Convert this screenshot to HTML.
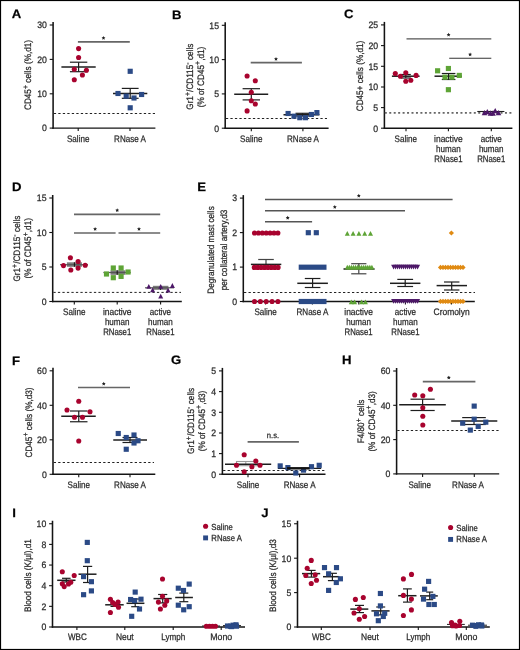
<!DOCTYPE html>
<html><head><meta charset="utf-8"><style>
html,body{margin:0;padding:0;background:#fff;}
body{width:520px;height:650px;overflow:hidden;}
text{stroke:#2a2a2a;stroke-width:0.25px;text-rendering:geometricPrecision;}
svg{display:block;will-change:transform;font-family:"Liberation Sans", sans-serif;}
</style></head><body>
<svg width="520" height="650" viewBox="0 0 520 650">
<rect x="0" y="0" width="520" height="650" fill="#fff"/>
<text transform="translate(11.8,18.1) scale(1.08,1)" font-size="12.2" text-anchor="start" fill="#000" font-weight="bold">A</text>
<line x1="53.1" y1="22" x2="53.1" y2="128.8" stroke="#141414" stroke-width="1.55" stroke-linecap="butt"/>
<line x1="49.7" y1="25" x2="53.1" y2="25" stroke="#141414" stroke-width="1.1" stroke-linecap="butt"/>
<text transform="translate(46.9,28.35) scale(0.93,1)" font-size="9.4" text-anchor="end" fill="#2a2a2a">30</text>
<line x1="49.7" y1="59.4" x2="53.1" y2="59.4" stroke="#141414" stroke-width="1.1" stroke-linecap="butt"/>
<text transform="translate(46.9,62.75) scale(0.93,1)" font-size="9.4" text-anchor="end" fill="#2a2a2a">20</text>
<line x1="49.7" y1="93.8" x2="53.1" y2="93.8" stroke="#141414" stroke-width="1.1" stroke-linecap="butt"/>
<text transform="translate(46.9,97.15) scale(0.93,1)" font-size="9.4" text-anchor="end" fill="#2a2a2a">10</text>
<line x1="49.7" y1="128.1" x2="53.1" y2="128.1" stroke="#141414" stroke-width="1.1" stroke-linecap="butt"/>
<text transform="translate(46.9,131.45) scale(0.93,1)" font-size="9.4" text-anchor="end" fill="#2a2a2a">0</text>
<line x1="52.4" y1="128.1" x2="155.4" y2="128.1" stroke="#141414" stroke-width="1.4" stroke-linecap="butt"/>
<line x1="78.2" y1="128.1" x2="78.2" y2="131.1" stroke="#141414" stroke-width="1.1" stroke-linecap="butt"/>
<line x1="130" y1="128.1" x2="130" y2="131.1" stroke="#141414" stroke-width="1.1" stroke-linecap="butt"/>
<line x1="53.8" y1="113.5" x2="155" y2="113.5" stroke="#222" stroke-width="1" stroke-linecap="butt" stroke-dasharray="2.3,2.2"/>
<text transform="translate(31,75) rotate(-90) scale(0.87,1)" font-size="9.4" text-anchor="middle" fill="#2a2a2a">CD45<tspan font-size="7.6" dy="-3.2">+</tspan><tspan dy="3.2" dx="0.4"> cells (%,d1)</tspan></text>
<line x1="77.9" y1="41.8" x2="129.8" y2="41.8" stroke="#666666" stroke-width="1.7" stroke-linecap="butt"/>
<polygon points="103.5,35.95 104.1,37.17 105.45,37.37 104.47,38.32 104.7,39.66 103.5,39.02 102.3,39.66 102.53,38.32 101.55,37.37 102.9,37.17" fill="#222"/>
<line x1="69.9" y1="62.2" x2="87.3" y2="62.2" stroke="#1e1e1e" stroke-width="1.2" stroke-linecap="butt"/>
<line x1="69.9" y1="71.7" x2="87.3" y2="71.7" stroke="#1e1e1e" stroke-width="1.2" stroke-linecap="butt"/>
<line x1="78.6" y1="62.2" x2="78.6" y2="71.7" stroke="#1e1e1e" stroke-width="1.2" stroke-linecap="butt"/>
<line x1="61.4" y1="66.9" x2="95.7" y2="66.9" stroke="#1e1e1e" stroke-width="1.5" stroke-linecap="butt"/>
<line x1="121.8" y1="88.4" x2="138.6" y2="88.4" stroke="#1e1e1e" stroke-width="1.2" stroke-linecap="butt"/>
<line x1="121.8" y1="98.3" x2="138.6" y2="98.3" stroke="#1e1e1e" stroke-width="1.2" stroke-linecap="butt"/>
<line x1="130.2" y1="88.4" x2="130.2" y2="98.3" stroke="#1e1e1e" stroke-width="1.2" stroke-linecap="butt"/>
<line x1="113" y1="93.5" x2="147.3" y2="93.5" stroke="#1e1e1e" stroke-width="1.5" stroke-linecap="butt"/>
<text transform="translate(78.2,141.6) scale(0.86,1)" font-size="9.4" text-anchor="middle" fill="#2a2a2a">Saline</text>
<text transform="translate(130,141.6) scale(0.86,1)" font-size="9.4" text-anchor="middle" fill="#2a2a2a">RNase A</text>
<text transform="translate(172,18.6) scale(1.08,1)" font-size="12.2" text-anchor="start" fill="#000" font-weight="bold">B</text>
<line x1="225.2" y1="22.3" x2="225.2" y2="128.9" stroke="#141414" stroke-width="1.55" stroke-linecap="butt"/>
<line x1="221.8" y1="25.3" x2="225.2" y2="25.3" stroke="#141414" stroke-width="1.1" stroke-linecap="butt"/>
<text transform="translate(219,28.65) scale(0.93,1)" font-size="9.4" text-anchor="end" fill="#2a2a2a">15</text>
<line x1="221.8" y1="59.6" x2="225.2" y2="59.6" stroke="#141414" stroke-width="1.1" stroke-linecap="butt"/>
<text transform="translate(219,62.95) scale(0.93,1)" font-size="9.4" text-anchor="end" fill="#2a2a2a">10</text>
<line x1="221.8" y1="93.9" x2="225.2" y2="93.9" stroke="#141414" stroke-width="1.1" stroke-linecap="butt"/>
<text transform="translate(219,97.25) scale(0.93,1)" font-size="9.4" text-anchor="end" fill="#2a2a2a">5</text>
<line x1="221.8" y1="128.2" x2="225.2" y2="128.2" stroke="#141414" stroke-width="1.1" stroke-linecap="butt"/>
<text transform="translate(219,131.55) scale(0.93,1)" font-size="9.4" text-anchor="end" fill="#2a2a2a">0</text>
<line x1="224.5" y1="128.2" x2="328.6" y2="128.2" stroke="#141414" stroke-width="1.4" stroke-linecap="butt"/>
<line x1="251.3" y1="128.2" x2="251.3" y2="131.2" stroke="#141414" stroke-width="1.1" stroke-linecap="butt"/>
<line x1="302.9" y1="128.2" x2="302.9" y2="131.2" stroke="#141414" stroke-width="1.1" stroke-linecap="butt"/>
<line x1="225.9" y1="118.5" x2="327" y2="118.5" stroke="#222" stroke-width="1" stroke-linecap="butt" stroke-dasharray="2.3,2.2"/>
<text transform="translate(193,76.7) rotate(-90) scale(0.87,1)" font-size="9.4" text-anchor="middle" fill="#2a2a2a">Gr1<tspan font-size="7.6" dy="-3.2">+</tspan><tspan dy="3.2" dx="0.4">/CD115<tspan font-size="7.6" dy="-3.2">-</tspan><tspan dy="3.2" dx="0.4"> cells</tspan></tspan></text>
<text transform="translate(203.5,77) rotate(-90) scale(0.87,1)" font-size="9.4" text-anchor="middle" fill="#2a2a2a">(% of CD45<tspan font-size="7.6" dy="-3.2">+</tspan><tspan dy="3.2" dx="0.4">,d1)</tspan></text>
<line x1="250.7" y1="62.7" x2="301.9" y2="62.7" stroke="#666666" stroke-width="1.7" stroke-linecap="butt"/>
<polygon points="276,56.95 276.6,58.17 277.95,58.37 276.97,59.32 277.2,60.66 276,60.02 274.8,60.66 275.03,59.32 274.05,58.37 275.4,58.17" fill="#222"/>
<line x1="242.6" y1="88.7" x2="260" y2="88.7" stroke="#1e1e1e" stroke-width="1.2" stroke-linecap="butt"/>
<line x1="242.6" y1="99.9" x2="260" y2="99.9" stroke="#1e1e1e" stroke-width="1.2" stroke-linecap="butt"/>
<line x1="251.3" y1="88.7" x2="251.3" y2="99.9" stroke="#1e1e1e" stroke-width="1.2" stroke-linecap="butt"/>
<line x1="234.2" y1="94.2" x2="268.2" y2="94.2" stroke="#1e1e1e" stroke-width="1.5" stroke-linecap="butt"/>
<line x1="295.5" y1="113.3" x2="309.5" y2="113.3" stroke="#1e1e1e" stroke-width="1.2" stroke-linecap="butt"/>
<line x1="295.5" y1="116" x2="309.5" y2="116" stroke="#1e1e1e" stroke-width="1.2" stroke-linecap="butt"/>
<line x1="302.5" y1="113.3" x2="302.5" y2="116" stroke="#1e1e1e" stroke-width="1.2" stroke-linecap="butt"/>
<line x1="283.5" y1="114.7" x2="319.4" y2="114.7" stroke="#1e1e1e" stroke-width="1.5" stroke-linecap="butt"/>
<text transform="translate(251.3,141.6) scale(0.86,1)" font-size="9.4" text-anchor="middle" fill="#2a2a2a">Saline</text>
<text transform="translate(302.9,141.6) scale(0.86,1)" font-size="9.4" text-anchor="middle" fill="#2a2a2a">RNase A</text>
<text transform="translate(343.9,17.9) scale(1.08,1)" font-size="12.2" text-anchor="start" fill="#000" font-weight="bold">C</text>
<line x1="384.4" y1="21.9" x2="384.4" y2="128.9" stroke="#141414" stroke-width="1.55" stroke-linecap="butt"/>
<line x1="381" y1="24.9" x2="384.4" y2="24.9" stroke="#141414" stroke-width="1.1" stroke-linecap="butt"/>
<text transform="translate(378.2,28.25) scale(0.93,1)" font-size="9.4" text-anchor="end" fill="#2a2a2a">25</text>
<line x1="381" y1="45.6" x2="384.4" y2="45.6" stroke="#141414" stroke-width="1.1" stroke-linecap="butt"/>
<text transform="translate(378.2,48.95) scale(0.93,1)" font-size="9.4" text-anchor="end" fill="#2a2a2a">20</text>
<line x1="381" y1="66.3" x2="384.4" y2="66.3" stroke="#141414" stroke-width="1.1" stroke-linecap="butt"/>
<text transform="translate(378.2,69.65) scale(0.93,1)" font-size="9.4" text-anchor="end" fill="#2a2a2a">15</text>
<line x1="381" y1="87" x2="384.4" y2="87" stroke="#141414" stroke-width="1.1" stroke-linecap="butt"/>
<text transform="translate(378.2,90.35) scale(0.93,1)" font-size="9.4" text-anchor="end" fill="#2a2a2a">10</text>
<line x1="381" y1="107.6" x2="384.4" y2="107.6" stroke="#141414" stroke-width="1.1" stroke-linecap="butt"/>
<text transform="translate(378.2,110.95) scale(0.93,1)" font-size="9.4" text-anchor="end" fill="#2a2a2a">5</text>
<line x1="381" y1="128.2" x2="384.4" y2="128.2" stroke="#141414" stroke-width="1.1" stroke-linecap="butt"/>
<text transform="translate(378.2,131.55) scale(0.93,1)" font-size="9.4" text-anchor="end" fill="#2a2a2a">0</text>
<line x1="383.7" y1="128.2" x2="512.4" y2="128.2" stroke="#141414" stroke-width="1.4" stroke-linecap="butt"/>
<line x1="406" y1="128.2" x2="406" y2="131.2" stroke="#141414" stroke-width="1.1" stroke-linecap="butt"/>
<line x1="448.4" y1="128.2" x2="448.4" y2="131.2" stroke="#141414" stroke-width="1.1" stroke-linecap="butt"/>
<line x1="491.3" y1="128.2" x2="491.3" y2="131.2" stroke="#141414" stroke-width="1.1" stroke-linecap="butt"/>
<line x1="384.8" y1="112.9" x2="512" y2="112.9" stroke="#666" stroke-width="1.7" stroke-linecap="butt" stroke-dasharray="2,2.45"/>
<text transform="translate(362.8,76) rotate(-90) scale(0.87,1)" font-size="9.4" text-anchor="middle" fill="#2a2a2a">CD45+ cells (%,d1)</text>
<line x1="406.5" y1="38.9" x2="491.3" y2="38.9" stroke="#555" stroke-width="1.4" stroke-linecap="butt"/>
<polygon points="448.6,32.75 449.2,33.97 450.55,34.17 449.57,35.12 449.8,36.46 448.6,35.82 447.4,36.46 447.63,35.12 446.65,34.17 448,33.97" fill="#222"/>
<line x1="449.2" y1="58.3" x2="491.3" y2="58.3" stroke="#333" stroke-width="1.1" stroke-linecap="butt"/>
<polygon points="470.1,52.45 470.7,53.67 472.05,53.87 471.07,54.82 471.3,56.16 470.1,55.52 468.9,56.16 469.13,54.82 468.15,53.87 469.5,53.67" fill="#222"/>
<line x1="400.8" y1="74.5" x2="410.8" y2="74.5" stroke="#1e1e1e" stroke-width="1.2" stroke-linecap="butt"/>
<line x1="400.8" y1="78" x2="410.8" y2="78" stroke="#1e1e1e" stroke-width="1.2" stroke-linecap="butt"/>
<line x1="405.8" y1="74.5" x2="405.8" y2="78" stroke="#1e1e1e" stroke-width="1.2" stroke-linecap="butt"/>
<line x1="391.9" y1="76.2" x2="419.6" y2="76.2" stroke="#1e1e1e" stroke-width="1.5" stroke-linecap="butt"/>
<line x1="441.8" y1="73.5" x2="455.4" y2="73.5" stroke="#1e1e1e" stroke-width="1.2" stroke-linecap="butt"/>
<line x1="441.8" y1="79.5" x2="455.4" y2="79.5" stroke="#1e1e1e" stroke-width="1.2" stroke-linecap="butt"/>
<line x1="448.6" y1="73.5" x2="448.6" y2="79.5" stroke="#1e1e1e" stroke-width="1.2" stroke-linecap="butt"/>
<line x1="434.5" y1="76.2" x2="461.9" y2="76.2" stroke="#1e1e1e" stroke-width="1.5" stroke-linecap="butt"/>
<line x1="477.3" y1="111.5" x2="504.4" y2="111.5" stroke="#1e1e1e" stroke-width="1.1" stroke-linecap="butt"/>
<text transform="translate(405.8,141.8) scale(0.86,1)" font-size="9.4" text-anchor="middle" fill="#2a2a2a">Saline</text>
<text transform="translate(448.4,141.8) scale(0.9,1)" font-size="9.4" text-anchor="middle" fill="#2a2a2a">inactive</text>
<text transform="translate(448.4,151.8) scale(0.86,1)" font-size="9.4" text-anchor="middle" fill="#2a2a2a">human</text>
<text transform="translate(448.4,161.8) scale(0.83,1)" font-size="9.4" text-anchor="middle" fill="#2a2a2a">RNase1</text>
<text transform="translate(491.2,141.8) scale(0.86,1)" font-size="9.4" text-anchor="middle" fill="#2a2a2a">active</text>
<text transform="translate(491.2,151.8) scale(0.86,1)" font-size="9.4" text-anchor="middle" fill="#2a2a2a">human</text>
<text transform="translate(491.2,161.8) scale(0.83,1)" font-size="9.4" text-anchor="middle" fill="#2a2a2a">RNase1</text>
<text transform="translate(12.1,191.2) scale(1.08,1)" font-size="12.2" text-anchor="start" fill="#000" font-weight="bold">D</text>
<line x1="52.7" y1="195" x2="52.7" y2="302.2" stroke="#141414" stroke-width="1.55" stroke-linecap="butt"/>
<line x1="49.3" y1="198" x2="52.7" y2="198" stroke="#141414" stroke-width="1.1" stroke-linecap="butt"/>
<text transform="translate(46.5,201.35) scale(0.93,1)" font-size="9.4" text-anchor="end" fill="#2a2a2a">15</text>
<line x1="49.3" y1="232.5" x2="52.7" y2="232.5" stroke="#141414" stroke-width="1.1" stroke-linecap="butt"/>
<text transform="translate(46.5,235.85) scale(0.93,1)" font-size="9.4" text-anchor="end" fill="#2a2a2a">10</text>
<line x1="49.3" y1="267" x2="52.7" y2="267" stroke="#141414" stroke-width="1.1" stroke-linecap="butt"/>
<text transform="translate(46.5,270.35) scale(0.93,1)" font-size="9.4" text-anchor="end" fill="#2a2a2a">5</text>
<line x1="49.3" y1="301.5" x2="52.7" y2="301.5" stroke="#141414" stroke-width="1.1" stroke-linecap="butt"/>
<text transform="translate(46.5,304.85) scale(0.93,1)" font-size="9.4" text-anchor="end" fill="#2a2a2a">0</text>
<line x1="52" y1="301.5" x2="181.8" y2="301.5" stroke="#141414" stroke-width="1.4" stroke-linecap="butt"/>
<line x1="74.3" y1="301.5" x2="74.3" y2="304.5" stroke="#141414" stroke-width="1.1" stroke-linecap="butt"/>
<line x1="117.2" y1="301.5" x2="117.2" y2="304.5" stroke="#141414" stroke-width="1.1" stroke-linecap="butt"/>
<line x1="160.6" y1="301.5" x2="160.6" y2="304.5" stroke="#141414" stroke-width="1.1" stroke-linecap="butt"/>
<line x1="53.4" y1="292.4" x2="181" y2="292.4" stroke="#222" stroke-width="1" stroke-linecap="butt" stroke-dasharray="2.3,2.2"/>
<text transform="translate(20.4,248.6) rotate(-90) scale(0.87,1)" font-size="9.4" text-anchor="middle" fill="#2a2a2a">Gr1<tspan font-size="7.6" dy="-3.2">+</tspan><tspan dy="3.2" dx="0.4">/CD115<tspan font-size="7.6" dy="-3.2">-</tspan><tspan dy="3.2" dx="0.4"> cells</tspan></tspan></text>
<text transform="translate(31,248.3) rotate(-90) scale(0.87,1)" font-size="9.4" text-anchor="middle" fill="#2a2a2a">(% of CD45<tspan font-size="7.6" dy="-3.2">+</tspan><tspan dy="3.2" dx="0.4">,d1)</tspan></text>
<line x1="74" y1="214.3" x2="160.2" y2="214.3" stroke="#666666" stroke-width="1.7" stroke-linecap="butt"/>
<polygon points="117.2,208.25 117.8,209.47 119.15,209.67 118.17,210.62 118.4,211.96 117.2,211.33 116,211.96 116.23,210.62 115.25,209.67 116.6,209.47" fill="#222"/>
<line x1="74" y1="233" x2="115.6" y2="233" stroke="#666666" stroke-width="1.7" stroke-linecap="butt"/>
<polygon points="95.1,226.95 95.7,228.17 97.05,228.37 96.07,229.32 96.3,230.66 95.1,230.03 93.9,230.66 94.13,229.32 93.15,228.37 94.5,228.17" fill="#222"/>
<line x1="118.5" y1="233" x2="160.2" y2="233" stroke="#666666" stroke-width="1.7" stroke-linecap="butt"/>
<polygon points="139,226.95 139.6,228.17 140.95,228.37 139.97,229.32 140.2,230.66 139,230.03 137.8,230.66 138.03,229.32 137.05,228.37 138.4,228.17" fill="#222"/>
<rect x="66.9" y="262.3" width="15" height="4.5" fill="#7a7a7a"/>
<line x1="60" y1="264.7" x2="88" y2="264.7" stroke="#555" stroke-width="1.2" stroke-linecap="butt"/>
<line x1="74.4" y1="262.3" x2="74.4" y2="266.8" stroke="#111" stroke-width="1" stroke-linecap="butt"/>
<rect x="110.5" y="270.3" width="15" height="4.5" fill="#7a7a7a"/>
<line x1="103.4" y1="272.5" x2="130.7" y2="272.5" stroke="#555" stroke-width="1.2" stroke-linecap="butt"/>
<line x1="117.2" y1="270.3" x2="117.2" y2="274.8" stroke="#111" stroke-width="1" stroke-linecap="butt"/>
<rect x="152.9" y="285.8" width="15.5" height="4" fill="#7a7a7a"/>
<line x1="145" y1="287.8" x2="174" y2="287.8" stroke="#555" stroke-width="1.2" stroke-linecap="butt"/>
<line x1="160.5" y1="285.8" x2="160.5" y2="289.8" stroke="#111" stroke-width="1" stroke-linecap="butt"/>
<text transform="translate(74.3,315) scale(0.86,1)" font-size="9.4" text-anchor="middle" fill="#2a2a2a">Saline</text>
<text transform="translate(117.2,315) scale(0.9,1)" font-size="9.4" text-anchor="middle" fill="#2a2a2a">inactive</text>
<text transform="translate(117.2,325) scale(0.86,1)" font-size="9.4" text-anchor="middle" fill="#2a2a2a">human</text>
<text transform="translate(117.2,335) scale(0.83,1)" font-size="9.4" text-anchor="middle" fill="#2a2a2a">RNase1</text>
<text transform="translate(160.4,315) scale(0.86,1)" font-size="9.4" text-anchor="middle" fill="#2a2a2a">active</text>
<text transform="translate(160.4,325) scale(0.86,1)" font-size="9.4" text-anchor="middle" fill="#2a2a2a">human</text>
<text transform="translate(160.4,335) scale(0.83,1)" font-size="9.4" text-anchor="middle" fill="#2a2a2a">RNase1</text>
<text transform="translate(197.3,191) scale(1.08,1)" font-size="12.2" text-anchor="start" fill="#000" font-weight="bold">E</text>
<line x1="243.3" y1="195.1" x2="243.3" y2="302.2" stroke="#141414" stroke-width="1.55" stroke-linecap="butt"/>
<line x1="239.9" y1="198.1" x2="243.3" y2="198.1" stroke="#141414" stroke-width="1.1" stroke-linecap="butt"/>
<text transform="translate(237.1,201.45) scale(0.93,1)" font-size="9.4" text-anchor="end" fill="#2a2a2a">3</text>
<line x1="239.9" y1="232.6" x2="243.3" y2="232.6" stroke="#141414" stroke-width="1.1" stroke-linecap="butt"/>
<text transform="translate(237.1,235.95) scale(0.93,1)" font-size="9.4" text-anchor="end" fill="#2a2a2a">2</text>
<line x1="239.9" y1="267.1" x2="243.3" y2="267.1" stroke="#141414" stroke-width="1.1" stroke-linecap="butt"/>
<text transform="translate(237.1,270.45) scale(0.93,1)" font-size="9.4" text-anchor="end" fill="#2a2a2a">1</text>
<line x1="239.9" y1="301.5" x2="243.3" y2="301.5" stroke="#141414" stroke-width="1.1" stroke-linecap="butt"/>
<text transform="translate(237.1,304.85) scale(0.93,1)" font-size="9.4" text-anchor="end" fill="#2a2a2a">0</text>
<line x1="242.6" y1="301.5" x2="474.8" y2="301.5" stroke="#141414" stroke-width="1.4" stroke-linecap="butt"/>
<line x1="265.6" y1="301.5" x2="265.6" y2="304.5" stroke="#141414" stroke-width="1.1" stroke-linecap="butt"/>
<line x1="312.4" y1="301.5" x2="312.4" y2="304.5" stroke="#141414" stroke-width="1.1" stroke-linecap="butt"/>
<line x1="358.8" y1="301.5" x2="358.8" y2="304.5" stroke="#141414" stroke-width="1.1" stroke-linecap="butt"/>
<line x1="405.4" y1="301.5" x2="405.4" y2="304.5" stroke="#141414" stroke-width="1.1" stroke-linecap="butt"/>
<line x1="451.4" y1="301.5" x2="451.4" y2="304.5" stroke="#141414" stroke-width="1.1" stroke-linecap="butt"/>
<line x1="244" y1="292.5" x2="475" y2="292.5" stroke="#222" stroke-width="1" stroke-linecap="butt" stroke-dasharray="2.3,2.2"/>
<text transform="translate(214,250) rotate(-90) scale(0.87,1)" font-size="9.4" text-anchor="middle" fill="#2a2a2a">Degranulated mast cells</text>
<text transform="translate(226.5,250) rotate(-90) scale(0.87,1)" font-size="9.4" text-anchor="middle" fill="#2a2a2a">per collateral artery,d3</text>
<line x1="265" y1="199.5" x2="452.6" y2="199.5" stroke="#555" stroke-width="1.5" stroke-linecap="butt"/>
<polygon points="358.8,193.75 359.4,194.97 360.75,195.17 359.77,196.12 360,197.46 358.8,196.83 357.6,197.46 357.83,196.12 356.85,195.17 358.2,194.97" fill="#222"/>
<line x1="265" y1="210.8" x2="405" y2="210.8" stroke="#555" stroke-width="1.5" stroke-linecap="butt"/>
<polygon points="334.8,204.95 335.4,206.17 336.75,206.37 335.77,207.32 336,208.66 334.8,208.03 333.6,208.66 333.83,207.32 332.85,206.37 334.2,206.17" fill="#222"/>
<line x1="265" y1="221.7" x2="312.1" y2="221.7" stroke="#555" stroke-width="1.5" stroke-linecap="butt"/>
<polygon points="287.7,215.85 288.3,217.07 289.65,217.27 288.67,218.22 288.9,219.56 287.7,218.93 286.5,219.56 286.73,218.22 285.75,217.27 287.1,217.07" fill="#222"/>
<line x1="258.2" y1="259.5" x2="273.8" y2="259.5" stroke="#444" stroke-width="1.2" stroke-linecap="butt"/>
<line x1="258.2" y1="268" x2="273.8" y2="268" stroke="#444" stroke-width="1.2" stroke-linecap="butt"/>
<line x1="266" y1="259.5" x2="266" y2="268" stroke="#444" stroke-width="1.2" stroke-linecap="butt"/>
<line x1="250.9" y1="264.4" x2="281.3" y2="264.4" stroke="#1e1e1e" stroke-width="1.5" stroke-linecap="butt"/>
<line x1="304.8" y1="278.5" x2="320.4" y2="278.5" stroke="#1e1e1e" stroke-width="1.2" stroke-linecap="butt"/>
<line x1="304.8" y1="287.5" x2="320.4" y2="287.5" stroke="#1e1e1e" stroke-width="1.2" stroke-linecap="butt"/>
<line x1="312.6" y1="278.5" x2="312.6" y2="287.5" stroke="#1e1e1e" stroke-width="1.2" stroke-linecap="butt"/>
<line x1="297.3" y1="283.3" x2="327.9" y2="283.3" stroke="#1e1e1e" stroke-width="1.5" stroke-linecap="butt"/>
<line x1="351.2" y1="263.7" x2="366.4" y2="263.7" stroke="#444" stroke-width="1.2" stroke-linecap="butt"/>
<line x1="351.2" y1="273.8" x2="366.4" y2="273.8" stroke="#444" stroke-width="1.2" stroke-linecap="butt"/>
<line x1="358.8" y1="263.7" x2="358.8" y2="273.8" stroke="#444" stroke-width="1.2" stroke-linecap="butt"/>
<line x1="343.5" y1="269" x2="374.6" y2="269" stroke="#1e1e1e" stroke-width="1.5" stroke-linecap="butt"/>
<line x1="397.3" y1="279.4" x2="413.1" y2="279.4" stroke="#1e1e1e" stroke-width="1.2" stroke-linecap="butt"/>
<line x1="397.3" y1="286.5" x2="413.1" y2="286.5" stroke="#1e1e1e" stroke-width="1.2" stroke-linecap="butt"/>
<line x1="405.2" y1="279.4" x2="405.2" y2="286.5" stroke="#1e1e1e" stroke-width="1.2" stroke-linecap="butt"/>
<line x1="390" y1="283.3" x2="420.4" y2="283.3" stroke="#1e1e1e" stroke-width="1.5" stroke-linecap="butt"/>
<line x1="444" y1="282" x2="459.4" y2="282" stroke="#1e1e1e" stroke-width="1.2" stroke-linecap="butt"/>
<line x1="444" y1="290" x2="459.4" y2="290" stroke="#1e1e1e" stroke-width="1.2" stroke-linecap="butt"/>
<line x1="451.7" y1="282" x2="451.7" y2="290" stroke="#1e1e1e" stroke-width="1.2" stroke-linecap="butt"/>
<line x1="436.6" y1="285.6" x2="467" y2="285.6" stroke="#1e1e1e" stroke-width="1.5" stroke-linecap="butt"/>
<text transform="translate(265.6,315.2) scale(0.86,1)" font-size="9.4" text-anchor="middle" fill="#2a2a2a">Saline</text>
<text transform="translate(312.4,315.2) scale(0.86,1)" font-size="9.4" text-anchor="middle" fill="#2a2a2a">RNase A</text>
<text transform="translate(358.6,315.2) scale(0.9,1)" font-size="9.4" text-anchor="middle" fill="#2a2a2a">inactive</text>
<text transform="translate(358.6,325.2) scale(0.86,1)" font-size="9.4" text-anchor="middle" fill="#2a2a2a">human</text>
<text transform="translate(358.6,335.2) scale(0.83,1)" font-size="9.4" text-anchor="middle" fill="#2a2a2a">RNase1</text>
<text transform="translate(405.4,315.2) scale(0.86,1)" font-size="9.4" text-anchor="middle" fill="#2a2a2a">active</text>
<text transform="translate(405.4,325.2) scale(0.86,1)" font-size="9.4" text-anchor="middle" fill="#2a2a2a">human</text>
<text transform="translate(405.4,335.2) scale(0.83,1)" font-size="9.4" text-anchor="middle" fill="#2a2a2a">RNase1</text>
<text transform="translate(451.6,315.2) scale(0.9,1)" font-size="9.4" text-anchor="middle" fill="#2a2a2a">Cromolyn</text>
<text transform="translate(12.1,364.5) scale(1.08,1)" font-size="12.2" text-anchor="start" fill="#000" font-weight="bold">F</text>
<line x1="53" y1="367.8" x2="53" y2="475" stroke="#141414" stroke-width="1.55" stroke-linecap="butt"/>
<line x1="49.6" y1="370.8" x2="53" y2="370.8" stroke="#141414" stroke-width="1.1" stroke-linecap="butt"/>
<text transform="translate(46.8,374.15) scale(0.93,1)" font-size="9.4" text-anchor="end" fill="#2a2a2a">60</text>
<line x1="49.6" y1="405.3" x2="53" y2="405.3" stroke="#141414" stroke-width="1.1" stroke-linecap="butt"/>
<text transform="translate(46.8,408.65) scale(0.93,1)" font-size="9.4" text-anchor="end" fill="#2a2a2a">40</text>
<line x1="49.6" y1="439.8" x2="53" y2="439.8" stroke="#141414" stroke-width="1.1" stroke-linecap="butt"/>
<text transform="translate(46.8,443.15) scale(0.93,1)" font-size="9.4" text-anchor="end" fill="#2a2a2a">20</text>
<line x1="49.6" y1="474.3" x2="53" y2="474.3" stroke="#141414" stroke-width="1.1" stroke-linecap="butt"/>
<text transform="translate(46.8,477.65) scale(0.93,1)" font-size="9.4" text-anchor="end" fill="#2a2a2a">0</text>
<line x1="52.3" y1="474.3" x2="155.3" y2="474.3" stroke="#141414" stroke-width="1.4" stroke-linecap="butt"/>
<line x1="78.75" y1="474.3" x2="78.75" y2="477.3" stroke="#141414" stroke-width="1.1" stroke-linecap="butt"/>
<line x1="130" y1="474.3" x2="130" y2="477.3" stroke="#141414" stroke-width="1.1" stroke-linecap="butt"/>
<line x1="53.7" y1="462.5" x2="154" y2="462.5" stroke="#222" stroke-width="1" stroke-linecap="butt" stroke-dasharray="2.3,2.2"/>
<text transform="translate(31.5,422.5) rotate(-90) scale(0.87,1)" font-size="9.4" text-anchor="middle" fill="#2a2a2a">CD45<tspan font-size="7.6" dy="-3.2">+</tspan><tspan dy="3.2" dx="0.4"> cells (%,d3)</tspan></text>
<line x1="78" y1="387.5" x2="130" y2="387.5" stroke="#666666" stroke-width="1.7" stroke-linecap="butt"/>
<polygon points="103.75,381.75 104.35,382.97 105.7,383.17 104.72,384.12 104.95,385.46 103.75,384.82 102.55,385.46 102.78,384.12 101.8,383.17 103.15,382.97" fill="#222"/>
<line x1="70" y1="411" x2="87.5" y2="411" stroke="#1e1e1e" stroke-width="1.2" stroke-linecap="butt"/>
<line x1="70" y1="421.75" x2="87.5" y2="421.75" stroke="#1e1e1e" stroke-width="1.2" stroke-linecap="butt"/>
<line x1="78.75" y1="411" x2="78.75" y2="421.75" stroke="#1e1e1e" stroke-width="1.2" stroke-linecap="butt"/>
<line x1="61.25" y1="416.25" x2="95.75" y2="416.25" stroke="#1e1e1e" stroke-width="1.5" stroke-linecap="butt"/>
<line x1="122.5" y1="437.5" x2="137.5" y2="437.5" stroke="#1e1e1e" stroke-width="1.2" stroke-linecap="butt"/>
<line x1="122.5" y1="442.5" x2="137.5" y2="442.5" stroke="#1e1e1e" stroke-width="1.2" stroke-linecap="butt"/>
<line x1="130" y1="437.5" x2="130" y2="442.5" stroke="#1e1e1e" stroke-width="1.2" stroke-linecap="butt"/>
<line x1="113.25" y1="440" x2="147" y2="440" stroke="#1e1e1e" stroke-width="1.5" stroke-linecap="butt"/>
<text transform="translate(78.75,487.8) scale(0.86,1)" font-size="9.4" text-anchor="middle" fill="#2a2a2a">Saline</text>
<text transform="translate(130,487.8) scale(0.86,1)" font-size="9.4" text-anchor="middle" fill="#2a2a2a">RNase A</text>
<text transform="translate(171,363.8) scale(1.08,1)" font-size="12.2" text-anchor="start" fill="#000" font-weight="bold">G</text>
<line x1="222.4" y1="367.9" x2="222.4" y2="474.9" stroke="#141414" stroke-width="1.55" stroke-linecap="butt"/>
<line x1="219" y1="370.9" x2="222.4" y2="370.9" stroke="#141414" stroke-width="1.1" stroke-linecap="butt"/>
<text transform="translate(216.2,374.25) scale(0.93,1)" font-size="9.4" text-anchor="end" fill="#2a2a2a">5</text>
<line x1="219" y1="391.6" x2="222.4" y2="391.6" stroke="#141414" stroke-width="1.1" stroke-linecap="butt"/>
<text transform="translate(216.2,394.95) scale(0.93,1)" font-size="9.4" text-anchor="end" fill="#2a2a2a">4</text>
<line x1="219" y1="412.3" x2="222.4" y2="412.3" stroke="#141414" stroke-width="1.1" stroke-linecap="butt"/>
<text transform="translate(216.2,415.65) scale(0.93,1)" font-size="9.4" text-anchor="end" fill="#2a2a2a">3</text>
<line x1="219" y1="433" x2="222.4" y2="433" stroke="#141414" stroke-width="1.1" stroke-linecap="butt"/>
<text transform="translate(216.2,436.35) scale(0.93,1)" font-size="9.4" text-anchor="end" fill="#2a2a2a">2</text>
<line x1="219" y1="453.6" x2="222.4" y2="453.6" stroke="#141414" stroke-width="1.1" stroke-linecap="butt"/>
<text transform="translate(216.2,456.95) scale(0.93,1)" font-size="9.4" text-anchor="end" fill="#2a2a2a">1</text>
<line x1="219" y1="474.2" x2="222.4" y2="474.2" stroke="#141414" stroke-width="1.1" stroke-linecap="butt"/>
<text transform="translate(216.2,477.55) scale(0.93,1)" font-size="9.4" text-anchor="end" fill="#2a2a2a">0</text>
<line x1="221.7" y1="474.2" x2="325.5" y2="474.2" stroke="#141414" stroke-width="1.4" stroke-linecap="butt"/>
<line x1="248" y1="474.2" x2="248" y2="477.2" stroke="#141414" stroke-width="1.1" stroke-linecap="butt"/>
<line x1="299.6" y1="474.2" x2="299.6" y2="477.2" stroke="#141414" stroke-width="1.1" stroke-linecap="butt"/>
<line x1="223.1" y1="470.5" x2="325" y2="470.5" stroke="#222" stroke-width="1" stroke-linecap="butt" stroke-dasharray="2.3,2.2"/>
<text transform="translate(194.2,420.9) rotate(-90) scale(0.87,1)" font-size="9.4" text-anchor="middle" fill="#2a2a2a">Gr1<tspan font-size="7.6" dy="-3.2">+</tspan><tspan dy="3.2" dx="0.4">/CD115<tspan font-size="7.6" dy="-3.2">-</tspan><tspan dy="3.2" dx="0.4"> cells</tspan></tspan></text>
<text transform="translate(204.5,421) rotate(-90) scale(0.87,1)" font-size="9.4" text-anchor="middle" fill="#2a2a2a">(% of CD45<tspan font-size="7.6" dy="-3.2">+</tspan><tspan dy="3.2" dx="0.4">,d3)</tspan></text>
<line x1="247.6" y1="441.9" x2="298.9" y2="441.9" stroke="#666666" stroke-width="1.7" stroke-linecap="butt"/>
<text transform="translate(273,438.4) scale(0.95,1)" font-size="8" text-anchor="middle" fill="#2a2a2a">n.s.</text>
<rect x="236.5" y="461.5" width="21.2" height="4.2" fill="none" stroke="#999" stroke-width="1.1"/>
<line x1="245.8" y1="461.5" x2="245.8" y2="465.7" stroke="#999" stroke-width="1" stroke-linecap="butt"/>
<line x1="225" y1="464.3" x2="271.2" y2="464.3" stroke="#1e1e1e" stroke-width="1.5" stroke-linecap="butt"/>
<line x1="277.9" y1="468.3" x2="321.2" y2="468.3" stroke="#1e1e1e" stroke-width="1.2" stroke-linecap="butt"/>
<text transform="translate(248,487.8) scale(0.86,1)" font-size="9.4" text-anchor="middle" fill="#2a2a2a">Saline</text>
<text transform="translate(299.6,487.8) scale(0.86,1)" font-size="9.4" text-anchor="middle" fill="#2a2a2a">RNase A</text>
<text transform="translate(342.1,364.4) scale(1.08,1)" font-size="12.2" text-anchor="start" fill="#000" font-weight="bold">H</text>
<line x1="396.6" y1="368" x2="396.6" y2="474.6" stroke="#141414" stroke-width="1.55" stroke-linecap="butt"/>
<line x1="393.2" y1="371" x2="396.6" y2="371" stroke="#141414" stroke-width="1.1" stroke-linecap="butt"/>
<text transform="translate(390.4,374.35) scale(0.93,1)" font-size="9.4" text-anchor="end" fill="#2a2a2a">60</text>
<line x1="393.2" y1="405.3" x2="396.6" y2="405.3" stroke="#141414" stroke-width="1.1" stroke-linecap="butt"/>
<text transform="translate(390.4,408.65) scale(0.93,1)" font-size="9.4" text-anchor="end" fill="#2a2a2a">40</text>
<line x1="393.2" y1="439.6" x2="396.6" y2="439.6" stroke="#141414" stroke-width="1.1" stroke-linecap="butt"/>
<text transform="translate(390.4,442.95) scale(0.93,1)" font-size="9.4" text-anchor="end" fill="#2a2a2a">20</text>
<line x1="393.2" y1="473.9" x2="396.6" y2="473.9" stroke="#141414" stroke-width="1.1" stroke-linecap="butt"/>
<text transform="translate(390.4,477.25) scale(0.93,1)" font-size="9.4" text-anchor="end" fill="#2a2a2a">0</text>
<line x1="395.9" y1="473.9" x2="499.2" y2="473.9" stroke="#141414" stroke-width="1.4" stroke-linecap="butt"/>
<line x1="422.6" y1="473.9" x2="422.6" y2="476.9" stroke="#141414" stroke-width="1.1" stroke-linecap="butt"/>
<line x1="474.3" y1="473.9" x2="474.3" y2="476.9" stroke="#141414" stroke-width="1.1" stroke-linecap="butt"/>
<line x1="397.3" y1="430.5" x2="499" y2="430.5" stroke="#222" stroke-width="1" stroke-linecap="butt" stroke-dasharray="2.3,2.2"/>
<text transform="translate(364,421.4) rotate(-90) scale(0.87,1)" font-size="9.4" text-anchor="middle" fill="#2a2a2a">F4/80<tspan font-size="7.6" dy="-3.2">+</tspan><tspan dy="3.2" dx="0.4"> cells</tspan></text>
<text transform="translate(374.5,421.4) rotate(-90) scale(0.87,1)" font-size="9.4" text-anchor="middle" fill="#2a2a2a">(% of CD45<tspan font-size="7.6" dy="-3.2">+</tspan><tspan dy="3.2" dx="0.4">,d3)</tspan></text>
<line x1="422.8" y1="381.6" x2="475.4" y2="381.6" stroke="#666666" stroke-width="1.7" stroke-linecap="butt"/>
<polygon points="448.8,375.65 449.4,376.87 450.75,377.07 449.77,378.02 450,379.36 448.8,378.72 447.6,379.36 447.83,378.02 446.85,377.07 448.2,376.87" fill="#222"/>
<line x1="410.5" y1="399.2" x2="434.7" y2="399.2" stroke="#1e1e1e" stroke-width="1.2" stroke-linecap="butt"/>
<line x1="410.5" y1="410.5" x2="434.7" y2="410.5" stroke="#1e1e1e" stroke-width="1.2" stroke-linecap="butt"/>
<line x1="422.6" y1="399.2" x2="422.6" y2="410.5" stroke="#1e1e1e" stroke-width="1.2" stroke-linecap="butt"/>
<line x1="399.2" y1="404.7" x2="445.8" y2="404.7" stroke="#1e1e1e" stroke-width="1.5" stroke-linecap="butt"/>
<line x1="462.2" y1="417.6" x2="485.8" y2="417.6" stroke="#1e1e1e" stroke-width="1.2" stroke-linecap="butt"/>
<line x1="462.2" y1="424.5" x2="485.8" y2="424.5" stroke="#1e1e1e" stroke-width="1.2" stroke-linecap="butt"/>
<line x1="474" y1="417.6" x2="474" y2="424.5" stroke="#1e1e1e" stroke-width="1.2" stroke-linecap="butt"/>
<line x1="451.2" y1="421.1" x2="497.3" y2="421.1" stroke="#1e1e1e" stroke-width="1.5" stroke-linecap="butt"/>
<text transform="translate(419.7,487.8) scale(0.86,1)" font-size="9.4" text-anchor="middle" fill="#2a2a2a">Saline</text>
<text transform="translate(468,487.8) scale(0.86,1)" font-size="9.4" text-anchor="middle" fill="#2a2a2a">RNase A</text>
<text transform="translate(12.3,516.9) scale(1.08,1)" font-size="12.2" text-anchor="start" fill="#000" font-weight="bold">I</text>
<line x1="52.5" y1="520.75" x2="52.5" y2="627.7" stroke="#141414" stroke-width="1.55" stroke-linecap="butt"/>
<line x1="49.1" y1="523.75" x2="52.5" y2="523.75" stroke="#141414" stroke-width="1.1" stroke-linecap="butt"/>
<text transform="translate(46.3,527.1) scale(0.93,1)" font-size="9.4" text-anchor="end" fill="#2a2a2a">10</text>
<line x1="49.1" y1="544.4" x2="52.5" y2="544.4" stroke="#141414" stroke-width="1.1" stroke-linecap="butt"/>
<text transform="translate(46.3,547.75) scale(0.93,1)" font-size="9.4" text-anchor="end" fill="#2a2a2a">8</text>
<line x1="49.1" y1="565.05" x2="52.5" y2="565.05" stroke="#141414" stroke-width="1.1" stroke-linecap="butt"/>
<text transform="translate(46.3,568.4) scale(0.93,1)" font-size="9.4" text-anchor="end" fill="#2a2a2a">6</text>
<line x1="49.1" y1="585.7" x2="52.5" y2="585.7" stroke="#141414" stroke-width="1.1" stroke-linecap="butt"/>
<text transform="translate(46.3,589.05) scale(0.93,1)" font-size="9.4" text-anchor="end" fill="#2a2a2a">4</text>
<line x1="49.1" y1="606.35" x2="52.5" y2="606.35" stroke="#141414" stroke-width="1.1" stroke-linecap="butt"/>
<text transform="translate(46.3,609.7) scale(0.93,1)" font-size="9.4" text-anchor="end" fill="#2a2a2a">2</text>
<line x1="49.1" y1="627" x2="52.5" y2="627" stroke="#141414" stroke-width="1.1" stroke-linecap="butt"/>
<text transform="translate(46.3,630.35) scale(0.93,1)" font-size="9.4" text-anchor="end" fill="#2a2a2a">0</text>
<line x1="51.8" y1="627" x2="245" y2="627" stroke="#141414" stroke-width="1.4" stroke-linecap="butt"/>
<line x1="76.9" y1="627" x2="76.9" y2="630" stroke="#141414" stroke-width="1.1" stroke-linecap="butt"/>
<line x1="124.8" y1="627" x2="124.8" y2="630" stroke="#141414" stroke-width="1.1" stroke-linecap="butt"/>
<line x1="173.2" y1="627" x2="173.2" y2="630" stroke="#141414" stroke-width="1.1" stroke-linecap="butt"/>
<line x1="221.2" y1="627" x2="221.2" y2="630" stroke="#141414" stroke-width="1.1" stroke-linecap="butt"/>
<text transform="translate(31,575.6) rotate(-90) scale(0.87,1)" font-size="9.4" text-anchor="middle" fill="#2a2a2a">Blood cells (K/µl),d1</text>
<line x1="62" y1="578.3" x2="70.6" y2="578.3" stroke="#1e1e1e" stroke-width="1.2" stroke-linecap="butt"/>
<line x1="62" y1="582" x2="70.6" y2="582" stroke="#1e1e1e" stroke-width="1.2" stroke-linecap="butt"/>
<line x1="66.3" y1="578.3" x2="66.3" y2="582" stroke="#1e1e1e" stroke-width="1.2" stroke-linecap="butt"/>
<line x1="57.2" y1="580.3" x2="75.5" y2="580.3" stroke="#1e1e1e" stroke-width="1.5" stroke-linecap="butt"/>
<line x1="83" y1="566.4" x2="92.2" y2="566.4" stroke="#1e1e1e" stroke-width="1.2" stroke-linecap="butt"/>
<line x1="83" y1="582.5" x2="92.2" y2="582.5" stroke="#1e1e1e" stroke-width="1.2" stroke-linecap="butt"/>
<line x1="87.6" y1="566.4" x2="87.6" y2="582.5" stroke="#1e1e1e" stroke-width="1.2" stroke-linecap="butt"/>
<line x1="78.5" y1="574.2" x2="96.5" y2="574.2" stroke="#1e1e1e" stroke-width="1.5" stroke-linecap="butt"/>
<line x1="110.5" y1="603.2" x2="118.5" y2="603.2" stroke="#1e1e1e" stroke-width="1.2" stroke-linecap="butt"/>
<line x1="110.5" y1="606.4" x2="118.5" y2="606.4" stroke="#1e1e1e" stroke-width="1.2" stroke-linecap="butt"/>
<line x1="114.5" y1="603.2" x2="114.5" y2="606.4" stroke="#1e1e1e" stroke-width="1.2" stroke-linecap="butt"/>
<line x1="105.2" y1="604.8" x2="123.7" y2="604.8" stroke="#1e1e1e" stroke-width="1.5" stroke-linecap="butt"/>
<line x1="131.2" y1="599" x2="139.2" y2="599" stroke="#1e1e1e" stroke-width="1.2" stroke-linecap="butt"/>
<line x1="131.2" y1="606.7" x2="139.2" y2="606.7" stroke="#1e1e1e" stroke-width="1.2" stroke-linecap="butt"/>
<line x1="135.2" y1="599" x2="135.2" y2="606.7" stroke="#1e1e1e" stroke-width="1.2" stroke-linecap="butt"/>
<line x1="126.5" y1="603.3" x2="144.4" y2="603.3" stroke="#1e1e1e" stroke-width="1.5" stroke-linecap="butt"/>
<line x1="158.1" y1="594.5" x2="167.3" y2="594.5" stroke="#1e1e1e" stroke-width="1.2" stroke-linecap="butt"/>
<line x1="158.1" y1="602.9" x2="167.3" y2="602.9" stroke="#1e1e1e" stroke-width="1.2" stroke-linecap="butt"/>
<line x1="162.7" y1="594.5" x2="162.7" y2="602.9" stroke="#1e1e1e" stroke-width="1.2" stroke-linecap="butt"/>
<line x1="153.5" y1="598.6" x2="171.7" y2="598.6" stroke="#1e1e1e" stroke-width="1.5" stroke-linecap="butt"/>
<line x1="179.3" y1="593.1" x2="188.3" y2="593.1" stroke="#1e1e1e" stroke-width="1.2" stroke-linecap="butt"/>
<line x1="179.3" y1="601.7" x2="188.3" y2="601.7" stroke="#1e1e1e" stroke-width="1.2" stroke-linecap="butt"/>
<line x1="183.8" y1="593.1" x2="183.8" y2="601.7" stroke="#1e1e1e" stroke-width="1.2" stroke-linecap="butt"/>
<line x1="175.2" y1="597.5" x2="192.9" y2="597.5" stroke="#1e1e1e" stroke-width="1.5" stroke-linecap="butt"/>
<line x1="202" y1="626" x2="220" y2="626" stroke="#1e1e1e" stroke-width="1" stroke-linecap="butt"/>
<line x1="223" y1="625.6" x2="241" y2="625.6" stroke="#1e1e1e" stroke-width="1" stroke-linecap="butt"/>
<text transform="translate(77.3,640.3) scale(0.86,1)" font-size="9.4" text-anchor="middle" fill="#2a2a2a">WBC</text>
<text transform="translate(124.8,640.3) scale(0.9,1)" font-size="9.4" text-anchor="middle" fill="#2a2a2a">Neut</text>
<text transform="translate(173.2,640.3) scale(0.86,1)" font-size="9.4" text-anchor="middle" fill="#2a2a2a">Lymph</text>
<text transform="translate(221.2,640.3) scale(0.94,1)" font-size="9.4" text-anchor="middle" fill="#2a2a2a">Mono</text>
<text transform="translate(211.3,530.2) scale(0.88,1)" font-size="8.8" text-anchor="start" fill="#2a2a2a">Saline</text>
<text transform="translate(211.3,541.2) scale(0.88,1)" font-size="8.8" text-anchor="start" fill="#2a2a2a">RNase A</text>
<text transform="translate(261.3,517.35) scale(1.08,1)" font-size="12.2" text-anchor="start" fill="#000" font-weight="bold">J</text>
<line x1="297.5" y1="520.75" x2="297.5" y2="627.7" stroke="#141414" stroke-width="1.55" stroke-linecap="butt"/>
<line x1="294.1" y1="523.75" x2="297.5" y2="523.75" stroke="#141414" stroke-width="1.1" stroke-linecap="butt"/>
<text transform="translate(291.3,527.1) scale(0.93,1)" font-size="9.4" text-anchor="end" fill="#2a2a2a">15</text>
<line x1="294.1" y1="558.2" x2="297.5" y2="558.2" stroke="#141414" stroke-width="1.1" stroke-linecap="butt"/>
<text transform="translate(291.3,561.55) scale(0.93,1)" font-size="9.4" text-anchor="end" fill="#2a2a2a">10</text>
<line x1="294.1" y1="592.6" x2="297.5" y2="592.6" stroke="#141414" stroke-width="1.1" stroke-linecap="butt"/>
<text transform="translate(291.3,595.95) scale(0.93,1)" font-size="9.4" text-anchor="end" fill="#2a2a2a">5</text>
<line x1="294.1" y1="627" x2="297.5" y2="627" stroke="#141414" stroke-width="1.1" stroke-linecap="butt"/>
<text transform="translate(291.3,630.35) scale(0.93,1)" font-size="9.4" text-anchor="end" fill="#2a2a2a">0</text>
<line x1="296.8" y1="627" x2="489.8" y2="627" stroke="#141414" stroke-width="1.4" stroke-linecap="butt"/>
<line x1="321.3" y1="627" x2="321.3" y2="630" stroke="#141414" stroke-width="1.1" stroke-linecap="butt"/>
<line x1="370" y1="627" x2="370" y2="630" stroke="#141414" stroke-width="1.1" stroke-linecap="butt"/>
<line x1="418.3" y1="627" x2="418.3" y2="630" stroke="#141414" stroke-width="1.1" stroke-linecap="butt"/>
<line x1="466.3" y1="627" x2="466.3" y2="630" stroke="#141414" stroke-width="1.1" stroke-linecap="butt"/>
<text transform="translate(276,575.6) rotate(-90) scale(0.87,1)" font-size="9.4" text-anchor="middle" fill="#2a2a2a">Blood cells (K/µl),d3</text>
<line x1="307.2" y1="570.4" x2="315.6" y2="570.4" stroke="#1e1e1e" stroke-width="1.2" stroke-linecap="butt"/>
<line x1="307.2" y1="577.1" x2="315.6" y2="577.1" stroke="#1e1e1e" stroke-width="1.2" stroke-linecap="butt"/>
<line x1="311.4" y1="570.4" x2="311.4" y2="577.1" stroke="#1e1e1e" stroke-width="1.2" stroke-linecap="butt"/>
<line x1="302" y1="573.6" x2="320.2" y2="573.6" stroke="#1e1e1e" stroke-width="1.5" stroke-linecap="butt"/>
<line x1="327.9" y1="573.3" x2="336.9" y2="573.3" stroke="#1e1e1e" stroke-width="1.2" stroke-linecap="butt"/>
<line x1="327.9" y1="580.6" x2="336.9" y2="580.6" stroke="#1e1e1e" stroke-width="1.2" stroke-linecap="butt"/>
<line x1="332.4" y1="573.3" x2="332.4" y2="580.6" stroke="#1e1e1e" stroke-width="1.2" stroke-linecap="butt"/>
<line x1="323" y1="576.7" x2="339.4" y2="576.7" stroke="#1e1e1e" stroke-width="1.5" stroke-linecap="butt"/>
<line x1="355" y1="605.4" x2="364" y2="605.4" stroke="#1e1e1e" stroke-width="1.2" stroke-linecap="butt"/>
<line x1="355" y1="612.6" x2="364" y2="612.6" stroke="#1e1e1e" stroke-width="1.2" stroke-linecap="butt"/>
<line x1="359.5" y1="605.4" x2="359.5" y2="612.6" stroke="#1e1e1e" stroke-width="1.2" stroke-linecap="butt"/>
<line x1="350.3" y1="609.1" x2="368.3" y2="609.1" stroke="#1e1e1e" stroke-width="1.5" stroke-linecap="butt"/>
<line x1="376.2" y1="607" x2="385.2" y2="607" stroke="#1e1e1e" stroke-width="1.2" stroke-linecap="butt"/>
<line x1="376.2" y1="614.9" x2="385.2" y2="614.9" stroke="#1e1e1e" stroke-width="1.2" stroke-linecap="butt"/>
<line x1="380.7" y1="607" x2="380.7" y2="614.9" stroke="#1e1e1e" stroke-width="1.2" stroke-linecap="butt"/>
<line x1="371.4" y1="610.9" x2="389.6" y2="610.9" stroke="#1e1e1e" stroke-width="1.5" stroke-linecap="butt"/>
<line x1="403" y1="588.9" x2="411.8" y2="588.9" stroke="#1e1e1e" stroke-width="1.2" stroke-linecap="butt"/>
<line x1="403" y1="602.1" x2="411.8" y2="602.1" stroke="#1e1e1e" stroke-width="1.2" stroke-linecap="butt"/>
<line x1="407.4" y1="588.9" x2="407.4" y2="602.1" stroke="#1e1e1e" stroke-width="1.2" stroke-linecap="butt"/>
<line x1="398.2" y1="595.7" x2="416.5" y2="595.7" stroke="#1e1e1e" stroke-width="1.5" stroke-linecap="butt"/>
<line x1="426.2" y1="592.1" x2="433.2" y2="592.1" stroke="#1e1e1e" stroke-width="1.2" stroke-linecap="butt"/>
<line x1="426.2" y1="599.7" x2="433.2" y2="599.7" stroke="#1e1e1e" stroke-width="1.2" stroke-linecap="butt"/>
<line x1="429.7" y1="592.1" x2="429.7" y2="599.7" stroke="#1e1e1e" stroke-width="1.2" stroke-linecap="butt"/>
<line x1="420" y1="595.9" x2="437.8" y2="595.9" stroke="#1e1e1e" stroke-width="1.5" stroke-linecap="butt"/>
<line x1="447" y1="624.4" x2="464.8" y2="624.4" stroke="#1e1e1e" stroke-width="1" stroke-linecap="butt"/>
<line x1="468" y1="625.2" x2="487" y2="625.2" stroke="#1e1e1e" stroke-width="1" stroke-linecap="butt"/>
<text transform="translate(321.3,640.3) scale(0.86,1)" font-size="9.4" text-anchor="middle" fill="#2a2a2a">WBC</text>
<text transform="translate(370,640.3) scale(0.9,1)" font-size="9.4" text-anchor="middle" fill="#2a2a2a">Neut</text>
<text transform="translate(418.3,640.3) scale(0.86,1)" font-size="9.4" text-anchor="middle" fill="#2a2a2a">Lymph</text>
<text transform="translate(466.3,640.3) scale(0.94,1)" font-size="9.4" text-anchor="middle" fill="#2a2a2a">Mono</text>
<text transform="translate(456.3,531) scale(0.88,1)" font-size="8.8" text-anchor="start" fill="#2a2a2a">Saline</text>
<text transform="translate(456.3,542.3) scale(0.88,1)" font-size="8.8" text-anchor="start" fill="#2a2a2a">RNase A</text>
<circle cx="78.6" cy="48.6" r="2.55" fill="#a8032e"/>
<circle cx="78.6" cy="57.5" r="2.55" fill="#a8032e"/>
<circle cx="74.3" cy="69.3" r="2.55" fill="#a8032e"/>
<circle cx="86.4" cy="70.2" r="2.55" fill="#a8032e"/>
<circle cx="82.4" cy="75" r="2.55" fill="#a8032e"/>
<circle cx="74.3" cy="79.7" r="2.55" fill="#a8032e"/>
<rect x="127.62" y="68.72" width="5.15" height="5.15" fill="#2b4a86"/>
<rect x="115.42" y="90.92" width="5.15" height="5.15" fill="#2b4a86"/>
<rect x="123.62" y="93.62" width="5.15" height="5.15" fill="#2b4a86"/>
<rect x="131.43" y="95.42" width="5.15" height="5.15" fill="#2b4a86"/>
<rect x="139.03" y="91.92" width="5.15" height="5.15" fill="#2b4a86"/>
<rect x="127.62" y="105.22" width="5.15" height="5.15" fill="#2b4a86"/>
<circle cx="247.1" cy="76" r="2.55" fill="#a8032e"/>
<circle cx="255.3" cy="80.7" r="2.55" fill="#a8032e"/>
<circle cx="251.3" cy="92.3" r="2.55" fill="#a8032e"/>
<circle cx="251.3" cy="100.8" r="2.55" fill="#a8032e"/>
<circle cx="255.3" cy="104" r="2.55" fill="#a8032e"/>
<circle cx="247.1" cy="110.9" r="2.55" fill="#a8032e"/>
<rect x="285.53" y="110.92" width="5.15" height="5.15" fill="#2b4a86"/>
<rect x="291.43" y="113.62" width="5.15" height="5.15" fill="#2b4a86"/>
<rect x="297.23" y="115.12" width="5.15" height="5.15" fill="#2b4a86"/>
<rect x="302.93" y="115.12" width="5.15" height="5.15" fill="#2b4a86"/>
<rect x="308.82" y="111.92" width="5.15" height="5.15" fill="#2b4a86"/>
<rect x="314.32" y="110.02" width="5.15" height="5.15" fill="#2b4a86"/>
<circle cx="395.3" cy="73.5" r="2.55" fill="#a8032e"/>
<circle cx="400.4" cy="76.2" r="2.55" fill="#a8032e"/>
<circle cx="405.8" cy="72.8" r="2.55" fill="#a8032e"/>
<circle cx="405.8" cy="81.2" r="2.55" fill="#a8032e"/>
<circle cx="410.8" cy="80.3" r="2.55" fill="#a8032e"/>
<circle cx="416.1" cy="75.4" r="2.55" fill="#a8032e"/>
<rect x="435.03" y="68.22" width="5.15" height="5.15" fill="#5ea436"/>
<rect x="445.82" y="65.92" width="5.15" height="5.15" fill="#5ea436"/>
<rect x="442.43" y="74.62" width="5.15" height="5.15" fill="#5ea436"/>
<rect x="449.32" y="74.62" width="5.15" height="5.15" fill="#5ea436"/>
<rect x="456.73" y="72.83" width="5.15" height="5.15" fill="#5ea436"/>
<rect x="445.82" y="87.12" width="5.15" height="5.15" fill="#5ea436"/>
<polygon points="484.5,109.94 487.3,115.26 481.7,115.26" fill="#4d1868"/>
<polygon points="487.3,108.94 490.1,114.26 484.5,114.26" fill="#4d1868"/>
<polygon points="490.5,110.34 493.3,115.66 487.7,115.66" fill="#4d1868"/>
<polygon points="495.2,107.94 498,113.26 492.4,113.26" fill="#4d1868"/>
<polygon points="498.5,109.94 501.3,115.26 495.7,115.26" fill="#4d1868"/>
<polygon points="493,110.34 495.8,115.66 490.2,115.66" fill="#4d1868"/>
<circle cx="63.5" cy="265.6" r="2.55" fill="#a8032e"/>
<circle cx="70.4" cy="257.7" r="2.55" fill="#a8032e"/>
<circle cx="70.8" cy="270" r="2.55" fill="#a8032e"/>
<circle cx="78.1" cy="261.5" r="2.55" fill="#a8032e"/>
<circle cx="78.1" cy="268.1" r="2.55" fill="#a8032e"/>
<circle cx="85.2" cy="265.2" r="2.55" fill="#a8032e"/>
<rect x="110.72" y="265.43" width="5.15" height="5.15" fill="#5ea436"/>
<rect x="118.52" y="265.43" width="5.15" height="5.15" fill="#5ea436"/>
<rect x="103.92" y="271.43" width="5.15" height="5.15" fill="#5ea436"/>
<rect x="125.52" y="269.43" width="5.15" height="5.15" fill="#5ea436"/>
<rect x="110.72" y="275.12" width="5.15" height="5.15" fill="#5ea436"/>
<rect x="118.52" y="273.82" width="5.15" height="5.15" fill="#5ea436"/>
<polygon points="148.8,284.02 151.3,288.77 146.3,288.77" fill="#4d1868"/>
<polygon points="152.6,287.43 155.1,292.18 150.1,292.18" fill="#4d1868"/>
<polygon points="160.7,284.02 163.2,288.77 158.2,288.77" fill="#4d1868"/>
<polygon points="168.1,287.82 170.6,292.57 165.6,292.57" fill="#4d1868"/>
<polygon points="172.4,283.12 174.9,287.88 169.9,287.88" fill="#4d1868"/>
<polygon points="160.7,293.82 163.2,298.57 158.2,298.57" fill="#4d1868"/>
<circle cx="254.5" cy="233" r="2.55" fill="#a8032e"/>
<circle cx="258.4" cy="233" r="2.55" fill="#a8032e"/>
<circle cx="262.3" cy="233" r="2.55" fill="#a8032e"/>
<circle cx="266.2" cy="233" r="2.55" fill="#a8032e"/>
<circle cx="270.1" cy="233" r="2.55" fill="#a8032e"/>
<circle cx="274" cy="233" r="2.55" fill="#a8032e"/>
<circle cx="277.9" cy="233" r="2.55" fill="#a8032e"/>
<circle cx="254.3" cy="267.4" r="2.55" fill="#a8032e"/>
<circle cx="257.7" cy="267.4" r="2.55" fill="#a8032e"/>
<circle cx="261.1" cy="267.4" r="2.55" fill="#a8032e"/>
<circle cx="264.5" cy="267.4" r="2.55" fill="#a8032e"/>
<circle cx="267.9" cy="267.4" r="2.55" fill="#a8032e"/>
<circle cx="271.3" cy="267.4" r="2.55" fill="#a8032e"/>
<circle cx="274.7" cy="267.4" r="2.55" fill="#a8032e"/>
<circle cx="278.1" cy="267.4" r="2.55" fill="#a8032e"/>
<circle cx="254.5" cy="301.5" r="2.55" fill="#a8032e"/>
<circle cx="260.35" cy="301.5" r="2.55" fill="#a8032e"/>
<circle cx="266.2" cy="301.5" r="2.55" fill="#a8032e"/>
<circle cx="272.05" cy="301.5" r="2.55" fill="#a8032e"/>
<circle cx="277.9" cy="301.5" r="2.55" fill="#a8032e"/>
<rect x="305.73" y="230.12" width="5.15" height="5.15" fill="#2b4a86"/>
<rect x="313.73" y="230.12" width="5.15" height="5.15" fill="#2b4a86"/>
<rect x="298.7" y="264.6" width="27.8" height="5.2" fill="#2b4a86"/>
<rect x="298.7" y="298.9" width="27.8" height="5.2" fill="#2b4a86"/>
<polygon points="347.3,230.93 349.8,235.68 344.8,235.68" fill="#5ea436"/>
<polygon points="353.1,230.93 355.6,235.68 350.6,235.68" fill="#5ea436"/>
<polygon points="358.9,230.93 361.4,235.68 356.4,235.68" fill="#5ea436"/>
<polygon points="364.7,230.93 367.2,235.68 362.2,235.68" fill="#5ea436"/>
<polygon points="370.5,230.93 373,235.68 368,235.68" fill="#5ea436"/>
<polygon points="347.3,264.73 349.8,269.48 344.8,269.48" fill="#5ea436"/>
<polygon points="349.35,264.73 351.85,269.48 346.85,269.48" fill="#5ea436"/>
<polygon points="351.4,264.73 353.9,269.48 348.9,269.48" fill="#5ea436"/>
<polygon points="353.45,264.73 355.95,269.48 350.95,269.48" fill="#5ea436"/>
<polygon points="355.5,264.73 358,269.48 353,269.48" fill="#5ea436"/>
<polygon points="357.55,264.73 360.05,269.48 355.05,269.48" fill="#5ea436"/>
<polygon points="359.6,264.73 362.1,269.48 357.1,269.48" fill="#5ea436"/>
<polygon points="361.65,264.73 364.15,269.48 359.15,269.48" fill="#5ea436"/>
<polygon points="363.7,264.73 366.2,269.48 361.2,269.48" fill="#5ea436"/>
<polygon points="365.75,264.73 368.25,269.48 363.25,269.48" fill="#5ea436"/>
<polygon points="367.8,264.73 370.3,269.48 365.3,269.48" fill="#5ea436"/>
<polygon points="369.85,264.73 372.35,269.48 367.35,269.48" fill="#5ea436"/>
<polygon points="371.9,264.73 374.4,269.48 369.4,269.48" fill="#5ea436"/>
<polygon points="351.3,299.52 353.8,304.27 348.8,304.27" fill="#5ea436"/>
<polygon points="354.6,299.52 357.1,304.27 352.1,304.27" fill="#5ea436"/>
<polygon points="361.6,299.52 364.1,304.27 359.1,304.27" fill="#5ea436"/>
<polygon points="365.4,299.52 367.9,304.27 362.9,304.27" fill="#5ea436"/>
<polygon points="393.6,269.48 396.1,264.73 391.1,264.73" fill="#4d1868"/>
<polygon points="395.6,269.48 398.1,264.73 393.1,264.73" fill="#4d1868"/>
<polygon points="397.6,269.48 400.1,264.73 395.1,264.73" fill="#4d1868"/>
<polygon points="399.6,269.48 402.1,264.73 397.1,264.73" fill="#4d1868"/>
<polygon points="401.6,269.48 404.1,264.73 399.1,264.73" fill="#4d1868"/>
<polygon points="403.6,269.48 406.1,264.73 401.1,264.73" fill="#4d1868"/>
<polygon points="405.6,269.48 408.1,264.73 403.1,264.73" fill="#4d1868"/>
<polygon points="407.6,269.48 410.1,264.73 405.1,264.73" fill="#4d1868"/>
<polygon points="409.6,269.48 412.1,264.73 407.1,264.73" fill="#4d1868"/>
<polygon points="411.6,269.48 414.1,264.73 409.1,264.73" fill="#4d1868"/>
<polygon points="413.6,269.48 416.1,264.73 411.1,264.73" fill="#4d1868"/>
<polygon points="415.6,269.48 418.1,264.73 413.1,264.73" fill="#4d1868"/>
<polygon points="417.6,269.48 420.1,264.73 415.1,264.73" fill="#4d1868"/>
<polygon points="393.6,303.77 396.1,299.02 391.1,299.02" fill="#4d1868"/>
<polygon points="395.6,303.77 398.1,299.02 393.1,299.02" fill="#4d1868"/>
<polygon points="397.6,303.77 400.1,299.02 395.1,299.02" fill="#4d1868"/>
<polygon points="399.6,303.77 402.1,299.02 397.1,299.02" fill="#4d1868"/>
<polygon points="401.6,303.77 404.1,299.02 399.1,299.02" fill="#4d1868"/>
<polygon points="403.6,303.77 406.1,299.02 401.1,299.02" fill="#4d1868"/>
<polygon points="405.6,303.77 408.1,299.02 403.1,299.02" fill="#4d1868"/>
<polygon points="407.6,303.77 410.1,299.02 405.1,299.02" fill="#4d1868"/>
<polygon points="409.6,303.77 412.1,299.02 407.1,299.02" fill="#4d1868"/>
<polygon points="411.6,303.77 414.1,299.02 409.1,299.02" fill="#4d1868"/>
<polygon points="413.6,303.77 416.1,299.02 411.1,299.02" fill="#4d1868"/>
<polygon points="415.6,303.77 418.1,299.02 413.1,299.02" fill="#4d1868"/>
<polygon points="417.6,303.77 420.1,299.02 415.1,299.02" fill="#4d1868"/>
<polygon points="451.4,230.4 454,233 451.4,235.6 448.8,233" fill="#e08a12"/>
<polygon points="440.5,264.8 443.1,267.4 440.5,270 437.9,267.4" fill="#e08a12"/>
<polygon points="443,264.8 445.6,267.4 443,270 440.4,267.4" fill="#e08a12"/>
<polygon points="445.5,264.8 448.1,267.4 445.5,270 442.9,267.4" fill="#e08a12"/>
<polygon points="448,264.8 450.6,267.4 448,270 445.4,267.4" fill="#e08a12"/>
<polygon points="450.5,264.8 453.1,267.4 450.5,270 447.9,267.4" fill="#e08a12"/>
<polygon points="453,264.8 455.6,267.4 453,270 450.4,267.4" fill="#e08a12"/>
<polygon points="455.5,264.8 458.1,267.4 455.5,270 452.9,267.4" fill="#e08a12"/>
<polygon points="458,264.8 460.6,267.4 458,270 455.4,267.4" fill="#e08a12"/>
<polygon points="460.5,264.8 463.1,267.4 460.5,270 457.9,267.4" fill="#e08a12"/>
<polygon points="463,264.8 465.6,267.4 463,270 460.4,267.4" fill="#e08a12"/>
<polygon points="440.5,298.8 443.1,301.4 440.5,304 437.9,301.4" fill="#e08a12"/>
<polygon points="443,298.8 445.6,301.4 443,304 440.4,301.4" fill="#e08a12"/>
<polygon points="445.5,298.8 448.1,301.4 445.5,304 442.9,301.4" fill="#e08a12"/>
<polygon points="448,298.8 450.6,301.4 448,304 445.4,301.4" fill="#e08a12"/>
<polygon points="450.5,298.8 453.1,301.4 450.5,304 447.9,301.4" fill="#e08a12"/>
<polygon points="453,298.8 455.6,301.4 453,304 450.4,301.4" fill="#e08a12"/>
<polygon points="455.5,298.8 458.1,301.4 455.5,304 452.9,301.4" fill="#e08a12"/>
<polygon points="458,298.8 460.6,301.4 458,304 455.4,301.4" fill="#e08a12"/>
<polygon points="460.5,298.8 463.1,301.4 460.5,304 457.9,301.4" fill="#e08a12"/>
<polygon points="463,298.8 465.6,301.4 463,304 460.4,301.4" fill="#e08a12"/>
<circle cx="78.75" cy="401.25" r="2.55" fill="#a8032e"/>
<circle cx="67" cy="410" r="2.55" fill="#a8032e"/>
<circle cx="90" cy="411.75" r="2.55" fill="#a8032e"/>
<circle cx="74.5" cy="417.25" r="2.55" fill="#a8032e"/>
<circle cx="82.5" cy="417.25" r="2.55" fill="#a8032e"/>
<circle cx="78.75" cy="441" r="2.55" fill="#a8032e"/>
<rect x="115.67" y="430.93" width="5.15" height="5.15" fill="#2b4a86"/>
<rect x="123.67" y="434.93" width="5.15" height="5.15" fill="#2b4a86"/>
<rect x="131.43" y="432.43" width="5.15" height="5.15" fill="#2b4a86"/>
<rect x="135.43" y="438.18" width="5.15" height="5.15" fill="#2b4a86"/>
<rect x="131.43" y="440.43" width="5.15" height="5.15" fill="#2b4a86"/>
<rect x="123.67" y="446.68" width="5.15" height="5.15" fill="#2b4a86"/>
<circle cx="244.2" cy="454.7" r="2.55" fill="#a8032e"/>
<circle cx="236.5" cy="465.3" r="2.55" fill="#a8032e"/>
<circle cx="255.8" cy="461.1" r="2.55" fill="#a8032e"/>
<circle cx="251.9" cy="466.7" r="2.55" fill="#a8032e"/>
<circle cx="260" cy="465.3" r="2.55" fill="#a8032e"/>
<circle cx="244.2" cy="471.7" r="2.55" fill="#a8032e"/>
<rect x="277.62" y="463.32" width="5.15" height="5.15" fill="#2b4a86"/>
<rect x="285.32" y="465.03" width="5.15" height="5.15" fill="#2b4a86"/>
<rect x="293.23" y="470.43" width="5.15" height="5.15" fill="#2b4a86"/>
<rect x="300.93" y="467.53" width="5.15" height="5.15" fill="#2b4a86"/>
<rect x="308.93" y="464.12" width="5.15" height="5.15" fill="#2b4a86"/>
<rect x="316.62" y="462.73" width="5.15" height="5.15" fill="#2b4a86"/>
<rect x="287" y="467.1" width="22.6" height="2.4" fill="#111"/>
<circle cx="430.4" cy="389.2" r="2.55" fill="#a8032e"/>
<circle cx="414.7" cy="395" r="2.55" fill="#a8032e"/>
<circle cx="422.8" cy="395.7" r="2.55" fill="#a8032e"/>
<circle cx="422.8" cy="407.7" r="2.55" fill="#a8032e"/>
<circle cx="422.8" cy="416.2" r="2.55" fill="#a8032e"/>
<circle cx="422.8" cy="425" r="2.55" fill="#a8032e"/>
<rect x="471.62" y="403.53" width="5.15" height="5.15" fill="#2b4a86"/>
<rect x="471.62" y="416.62" width="5.15" height="5.15" fill="#2b4a86"/>
<rect x="460.12" y="420.62" width="5.15" height="5.15" fill="#2b4a86"/>
<rect x="483.23" y="419.62" width="5.15" height="5.15" fill="#2b4a86"/>
<rect x="475.62" y="423.82" width="5.15" height="5.15" fill="#2b4a86"/>
<rect x="467.73" y="427.53" width="5.15" height="5.15" fill="#2b4a86"/>
<circle cx="62.3" cy="571.8" r="2.55" fill="#a8032e"/>
<circle cx="74.2" cy="575.5" r="2.55" fill="#a8032e"/>
<circle cx="62.3" cy="583.7" r="2.55" fill="#a8032e"/>
<circle cx="64.2" cy="586.6" r="2.55" fill="#a8032e"/>
<circle cx="68.5" cy="583.9" r="2.55" fill="#a8032e"/>
<circle cx="70.8" cy="582.3" r="2.55" fill="#a8032e"/>
<rect x="84.72" y="539.82" width="5.15" height="5.15" fill="#2b4a86"/>
<rect x="84.72" y="558.12" width="5.15" height="5.15" fill="#2b4a86"/>
<rect x="81.02" y="574.02" width="5.15" height="5.15" fill="#2b4a86"/>
<rect x="88.83" y="579.12" width="5.15" height="5.15" fill="#2b4a86"/>
<rect x="88.83" y="588.32" width="5.15" height="5.15" fill="#2b4a86"/>
<rect x="81.02" y="592.12" width="5.15" height="5.15" fill="#2b4a86"/>
<circle cx="110.4" cy="599.2" r="2.55" fill="#a8032e"/>
<circle cx="112.7" cy="602.5" r="2.55" fill="#a8032e"/>
<circle cx="115" cy="604.4" r="2.55" fill="#a8032e"/>
<circle cx="118.1" cy="602.1" r="2.55" fill="#a8032e"/>
<circle cx="118.5" cy="607.3" r="2.55" fill="#a8032e"/>
<circle cx="110.4" cy="612.5" r="2.55" fill="#a8032e"/>
<rect x="132.62" y="589.52" width="5.15" height="5.15" fill="#2b4a86"/>
<rect x="128.03" y="596.92" width="5.15" height="5.15" fill="#2b4a86"/>
<rect x="132.03" y="598.02" width="5.15" height="5.15" fill="#2b4a86"/>
<rect x="138.43" y="596.62" width="5.15" height="5.15" fill="#2b4a86"/>
<rect x="136.93" y="606.42" width="5.15" height="5.15" fill="#2b4a86"/>
<rect x="129.12" y="613.72" width="5.15" height="5.15" fill="#2b4a86"/>
<circle cx="162.5" cy="579" r="2.55" fill="#a8032e"/>
<circle cx="162.5" cy="596.3" r="2.55" fill="#a8032e"/>
<circle cx="158.4" cy="602.1" r="2.55" fill="#a8032e"/>
<circle cx="166.7" cy="600.9" r="2.55" fill="#a8032e"/>
<circle cx="164.8" cy="605.2" r="2.55" fill="#a8032e"/>
<circle cx="160.4" cy="609" r="2.55" fill="#a8032e"/>
<rect x="186.62" y="581.52" width="5.15" height="5.15" fill="#2b4a86"/>
<rect x="175.73" y="585.62" width="5.15" height="5.15" fill="#2b4a86"/>
<rect x="180.93" y="587.92" width="5.15" height="5.15" fill="#2b4a86"/>
<rect x="175.73" y="602.62" width="5.15" height="5.15" fill="#2b4a86"/>
<rect x="186.62" y="604.12" width="5.15" height="5.15" fill="#2b4a86"/>
<rect x="181.12" y="607.22" width="5.15" height="5.15" fill="#2b4a86"/>
<circle cx="206.3" cy="626.2" r="2.55" fill="#a8032e"/>
<circle cx="209.5" cy="626.2" r="2.55" fill="#a8032e"/>
<circle cx="212.5" cy="626.2" r="2.55" fill="#a8032e"/>
<circle cx="215.5" cy="626.2" r="2.55" fill="#a8032e"/>
<rect x="224.93" y="623.42" width="5.15" height="5.15" fill="#2b4a86"/>
<rect x="227.93" y="623.62" width="5.15" height="5.15" fill="#2b4a86"/>
<rect x="230.43" y="622.62" width="5.15" height="5.15" fill="#2b4a86"/>
<rect x="233.43" y="622.22" width="5.15" height="5.15" fill="#2b4a86"/>
<rect x="233.93" y="623.62" width="5.15" height="5.15" fill="#2b4a86"/>
<rect x="228.93" y="624.02" width="5.15" height="5.15" fill="#2b4a86"/>
<circle cx="205.6" cy="526.25" r="2.55" fill="#a8032e"/>
<rect x="203.15" y="535.45" width="4.9" height="4.9" fill="#2b4a86"/>
<circle cx="311.25" cy="560.4" r="2.55" fill="#a8032e"/>
<circle cx="307.2" cy="568.3" r="2.55" fill="#a8032e"/>
<circle cx="305.8" cy="575.5" r="2.55" fill="#a8032e"/>
<circle cx="315.2" cy="574.8" r="2.55" fill="#a8032e"/>
<circle cx="316.5" cy="580.3" r="2.55" fill="#a8032e"/>
<circle cx="311.25" cy="583.5" r="2.55" fill="#a8032e"/>
<rect x="321.93" y="565.02" width="5.15" height="5.15" fill="#2b4a86"/>
<rect x="333.93" y="565.02" width="5.15" height="5.15" fill="#2b4a86"/>
<rect x="326.03" y="571.22" width="5.15" height="5.15" fill="#2b4a86"/>
<rect x="337.82" y="576.22" width="5.15" height="5.15" fill="#2b4a86"/>
<rect x="333.73" y="579.92" width="5.15" height="5.15" fill="#2b4a86"/>
<rect x="326.03" y="587.82" width="5.15" height="5.15" fill="#2b4a86"/>
<circle cx="355.4" cy="599.4" r="2.55" fill="#a8032e"/>
<circle cx="363.3" cy="597.5" r="2.55" fill="#a8032e"/>
<circle cx="359.3" cy="608.8" r="2.55" fill="#a8032e"/>
<circle cx="354" cy="613" r="2.55" fill="#a8032e"/>
<circle cx="364.6" cy="616.5" r="2.55" fill="#a8032e"/>
<circle cx="359.3" cy="619.3" r="2.55" fill="#a8032e"/>
<rect x="377.82" y="590.92" width="5.15" height="5.15" fill="#2b4a86"/>
<rect x="377.82" y="603.32" width="5.15" height="5.15" fill="#2b4a86"/>
<rect x="373.93" y="611.22" width="5.15" height="5.15" fill="#2b4a86"/>
<rect x="382.12" y="610.72" width="5.15" height="5.15" fill="#2b4a86"/>
<rect x="380.73" y="613.92" width="5.15" height="5.15" fill="#2b4a86"/>
<rect x="375.73" y="618.12" width="5.15" height="5.15" fill="#2b4a86"/>
<circle cx="411.5" cy="574.4" r="2.55" fill="#a8032e"/>
<circle cx="403.4" cy="578.9" r="2.55" fill="#a8032e"/>
<circle cx="403.4" cy="595.4" r="2.55" fill="#a8032e"/>
<circle cx="411.4" cy="599.1" r="2.55" fill="#a8032e"/>
<circle cx="411.4" cy="609.9" r="2.55" fill="#a8032e"/>
<circle cx="403.4" cy="615.5" r="2.55" fill="#a8032e"/>
<rect x="426.03" y="578.82" width="5.15" height="5.15" fill="#2b4a86"/>
<rect x="422.03" y="586.62" width="5.15" height="5.15" fill="#2b4a86"/>
<rect x="430.32" y="593.82" width="5.15" height="5.15" fill="#2b4a86"/>
<rect x="420.93" y="596.52" width="5.15" height="5.15" fill="#2b4a86"/>
<rect x="426.32" y="601.92" width="5.15" height="5.15" fill="#2b4a86"/>
<rect x="431.73" y="601.92" width="5.15" height="5.15" fill="#2b4a86"/>
<circle cx="451.5" cy="622.5" r="2.55" fill="#a8032e"/>
<circle cx="459.8" cy="621.3" r="2.55" fill="#a8032e"/>
<circle cx="452.5" cy="625.8" r="2.55" fill="#a8032e"/>
<circle cx="456" cy="626" r="2.55" fill="#a8032e"/>
<circle cx="459.5" cy="625.5" r="2.55" fill="#a8032e"/>
<circle cx="455" cy="625" r="2.55" fill="#a8032e"/>
<rect x="469.93" y="622.62" width="5.15" height="5.15" fill="#2b4a86"/>
<rect x="472.93" y="623.02" width="5.15" height="5.15" fill="#2b4a86"/>
<rect x="475.93" y="622.22" width="5.15" height="5.15" fill="#2b4a86"/>
<rect x="478.93" y="622.42" width="5.15" height="5.15" fill="#2b4a86"/>
<rect x="479.23" y="623.42" width="5.15" height="5.15" fill="#2b4a86"/>
<rect x="473.43" y="623.72" width="5.15" height="5.15" fill="#2b4a86"/>
<circle cx="450.6" cy="527.5" r="2.55" fill="#a8032e"/>
<rect x="448.15" y="536.95" width="4.9" height="4.9" fill="#2b4a86"/>
<rect x="0.5" y="0.5" width="519" height="649" fill="none" stroke="#000" stroke-width="1.2"/>
</svg>
</body></html>
